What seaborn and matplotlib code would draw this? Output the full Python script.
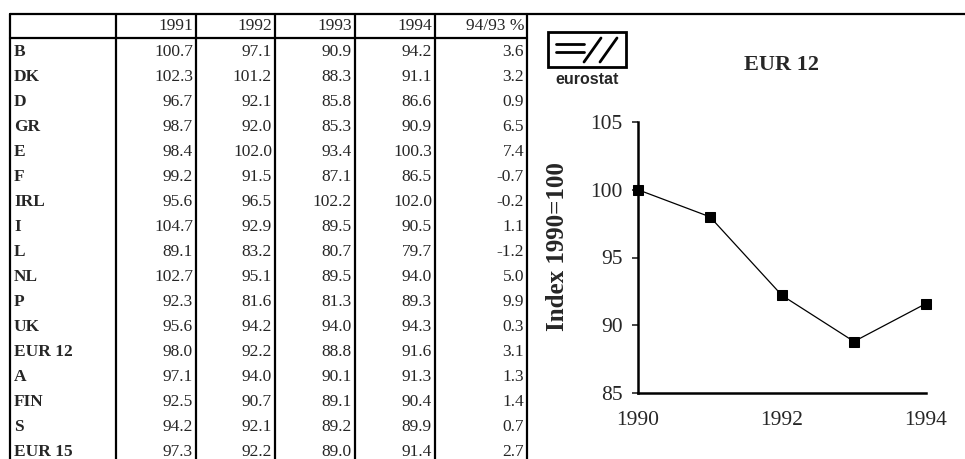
import matplotlib.pyplot as plt
import matplotlib.patches as mpatches
import pandas as pd
import seaborn as sns

# Table data
countries = ['B', 'DK', 'D', 'GR', 'E', 'F', 'IRL', 'I', 'L', 'NL', 'P', 'UK',
             'EUR 12', 'A', 'FIN', 'S', 'EUR 15']
col_heads = ['1991', '1992', '1993', '1994', '94/93 %']
v1991 = [100.7, 102.3, 96.7, 98.7, 98.4, 99.2, 95.6, 104.7, 89.1, 102.7, 92.3, 95.6, 98.0, 97.1, 92.5, 94.2, 97.3]
v1992 = [97.1, 101.2, 92.1, 92.0, 102.0, 91.5, 96.5, 92.9, 83.2, 95.1, 81.6, 94.2, 92.2, 94.0, 90.7, 92.1, 92.2]
v1993 = [90.9, 88.3, 85.8, 85.3, 93.4, 87.1, 102.2, 89.5, 80.7, 89.5, 81.3, 94.0, 88.8, 90.1, 89.1, 89.2, 89.0]
v1994 = [94.2, 91.1, 86.6, 90.9, 100.3, 86.5, 102.0, 90.5, 79.7, 94.0, 89.3, 94.3, 91.6, 91.3, 90.4, 89.9, 91.4]
chg = [3.6, 3.2, 0.9, 6.5, 7.4, -0.7, -0.2, 1.1, -1.2, 5.0, 9.9, 0.3, 3.1, 1.3, 1.4, 0.7, 2.7]

# Chart data (EUR 12, index 1990=100)
years = [1990, 1991, 1992, 1993, 1994]
eur12 = [100.0, 98.0, 92.2, 88.8, 91.6]

sns.set_style('white')
plt.rcParams['font.family'] = ['Liberation Serif', 'DejaVu Serif']

W, H = 965, 459
fig = plt.figure(figsize=(W / 100, H / 100), dpi=100)

# overlay in pixel coordinates for the table and decorations
ov = fig.add_axes([0, 0, 1, 1])
ov.set_xlim(0, W)
ov.set_ylim(H, 0)
ov.axis('off')

col_edges = [10, 116, 196, 275, 355, 435, 527]
top, head_bot = 14, 38
lw = 1.6
fs = 12.5
ov.plot([10, W], [top, top], color='black', lw=lw)
ov.plot([10, 527], [head_bot, head_bot], color='black', lw=lw)
for x in col_edges:
    ov.plot([x, x], [top, H], color='black', lw=lw)

for j, h in enumerate(col_heads):
    ov.text(col_edges[j + 2] - 3, 26, h, ha='right', va='center', fontsize=fs)

columns = [v1991, v1992, v1993, v1994, chg]
for i, name in enumerate(countries):
    y = 52 + 25 * i
    ov.text(14, y, name, ha='left', va='center', fontsize=fs, fontweight='bold')
    for j, col in enumerate(columns):
        ov.text(col_edges[j + 2] - 3, y, f'{col[i]:.1f}', ha='right', va='center', fontsize=fs)

# eurostat logo
ov.add_patch(mpatches.Rectangle((548, 32), 78, 35, fill=False, lw=2, ec='black'))
ov.plot([556, 584], [44, 44], color='black', lw=2)
ov.plot([556, 584], [52, 52], color='black', lw=2)
ov.plot([584, 601], [62, 38], color='black', lw=2)
ov.plot([600, 617], [62, 38], color='black', lw=2)
ov.text(587, 79, 'eurostat', ha='center', va='center', fontsize=11.5,
        fontweight='bold', family='Liberation Sans')

fig.text(782 / W, 1 - 65 / H, 'EUR 12', ha='center', va='center', fontsize=16, fontweight='bold')

# line chart
df = pd.DataFrame({'year': years, 'index': eur12})
ax = fig.add_axes([638 / W, (H - 393) / H, 288 / W, 271 / H])
ax.patch.set_alpha(0)
sns.lineplot(data=df, x='year', y='index', ax=ax, color='black', lw=0.9,
             marker='s', markersize=6.5, markeredgecolor='black', clip_on=False)
ax.set_xlim(1990, 1994)
ax.set_ylim(85, 105)
ax.set_xticks([1990, 1992, 1994])
ax.set_yticks([85, 90, 95, 100, 105])
ax.tick_params(axis='x', length=0, pad=13, labelsize=15.5)
ax.tick_params(axis='y', length=4, width=1.2, direction='out', pad=7, labelsize=15.5, left=True)
for s in ['top', 'right']:
    ax.spines[s].set_visible(False)
for s in ['left', 'bottom']:
    ax.spines[s].set_linewidth(1.8)
    ax.spines[s].set_color('black')
ax.set_xlabel('')
ax.set_ylabel('Index 1990=100', fontsize=18, fontweight='bold', va='center')
ax.yaxis.set_label_coords((558 - 638) / 288, 0.54)

fig.savefig('out.png', dpi=100)
